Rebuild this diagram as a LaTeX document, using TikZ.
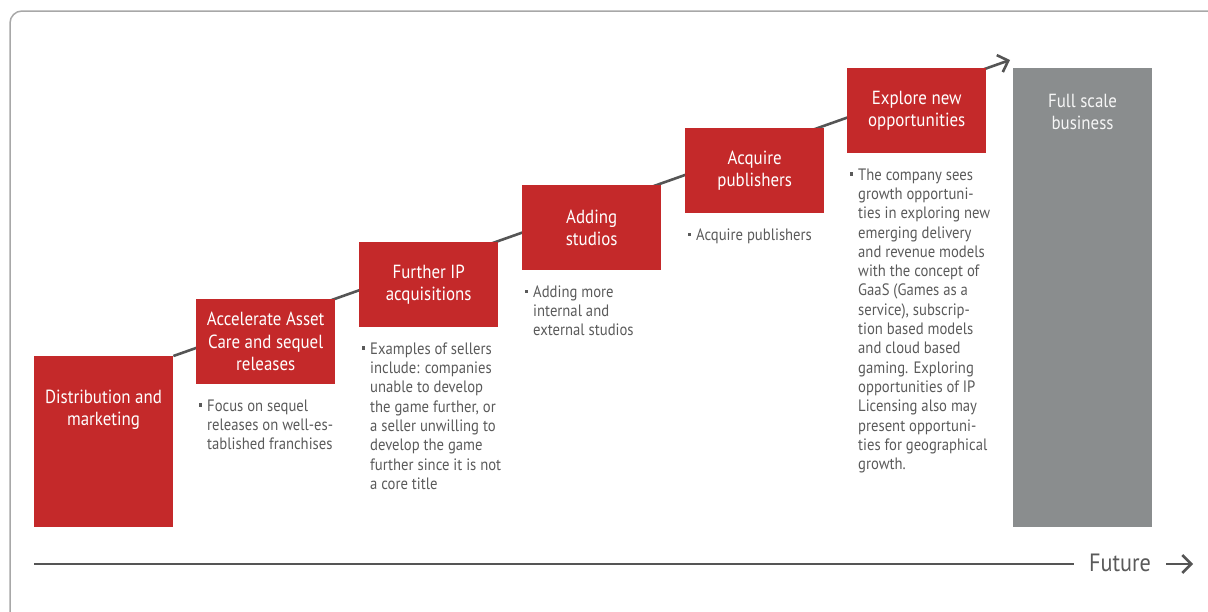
\documentclass[tikz,border=0pt]{standalone}
\usepackage{fontspec}
\setmainfont[FakeStretch=0.89]{PT Sans}
\usetikzlibrary{arrows.meta,backgrounds}

\definecolor{stepred}{HTML}{C4292A}
\definecolor{fullgray}{HTML}{8A8D8E}
\definecolor{notegray}{HTML}{5A5A5A}
\definecolor{linegray}{HTML}{555555}
\definecolor{framegray}{HTML}{A8A8A8}

% small square bullet hanging left of the first line
\newcommand{\sqbullet}{\llap{\raisebox{0.28em}{\rule{3.2pt}{3.2pt}}\hspace{5pt}}}

\begin{document}
\begin{tikzpicture}[
  x=1pt, y=-1pt,
  stepbox/.style={fill=stepred, text=white, anchor=north west, inner sep=0pt,
    minimum width=139pt, minimum height=85pt, align=center,
    font=\fontsize{19}{22.5}\selectfont},
  steptitle/.style={text=white, align=center, inner sep=0pt,
    font=\fontsize{19}{22.5}\selectfont},
  note/.style={anchor=north west, align=left, inner sep=0pt, text=notegray,
    font=\fontsize{16.5}{19.3}\selectfont},
  trend/.style={draw=linegray, line width=2.6pt,
    -{Straight Barb[length=9pt,width=18pt]}},
]

\useasboundingbox (0,0) rectangle (1208,611);
\clip (0,0) rectangle (1208,611);
\draw [framegray, line width=1.5pt, rounded corners=12pt] (10,11) rectangle (1240,650);

% steps
\node [stepbox, minimum height=171pt] (dist) at (34,356) {};
\node [steptitle] (distt) at (103.5,410) {Distribution and\\marketing};
\node [stepbox] (asset) at (196,299) {Accelerate Asset\\Care and sequel\\releases};
\node [stepbox] (ip) at (359,242) {Further IP\\acquisitions};
\node [stepbox] (studios) at (522,185) {Adding\\studios};
\node [stepbox] (pub) at (685,128) {Acquire\\publishers};
\node [stepbox] (explore) at (847,68) {Explore new\\opportunities};
\node [stepbox, fill=fullgray, minimum height=459pt] (full) at (1013,68) {};
\node [steptitle, text=white!92!fullgray] (fullt) at (1082.5,112) {Full scale\\business};

% notes under the steps
\node [note] (nasset) at ([xshift=11pt,yshift=-15pt]asset.south west)
  {\sqbullet Focus on sequel\\releases on well-es-\\tablished franchises};
\node [note] (nip) at ([xshift=11pt,yshift=-15pt]ip.south west)
  {\sqbullet Examples of sellers\\include: companies\\unable to develop\\the game further, or\\a seller unwilling to\\develop the game\\further since it is not\\a core title};
\node [note] (nstudios) at ([xshift=11pt,yshift=-15pt]studios.south west)
  {\sqbullet Adding more\\internal and\\external studios};
\node [note] (npub) at ([xshift=11pt,yshift=-15pt]pub.south west)
  {\sqbullet Acquire publishers};
\node [note] (nexplore) at ([xshift=11pt,yshift=-15pt]explore.south west)
  {\sqbullet The company sees\\growth opportuni-\\ties in exploring new\\emerging delivery\\and revenue models\\with the concept of\\GaaS (Games as a\\service), subscrip-\\tion based models\\and cloud based\\gaming. Exploring\\opportunities of IP\\Licensing also may\\present opportuni-\\ties for geographical\\growth.};

% growth line behind the steps
\coordinate (tip) at (1010,60);
\begin{pgfonlayer}{background}
\draw [trend] (dist.north east) -- (tip);
\end{pgfonlayer}

% time axis
\coordinate (axis) at (34,564);
\node [inner sep=0pt, text=notegray, font=\fontsize{25}{28}\selectfont] (future) at (1120,563) {Future};
\draw [linegray, line width=2.6pt] (axis) -- ([xshift=-15pt]future.west |- axis);
\draw [trend] ([xshift=15pt]future.east |- axis) -- ++(27,0);

\end{tikzpicture}
\end{document}
